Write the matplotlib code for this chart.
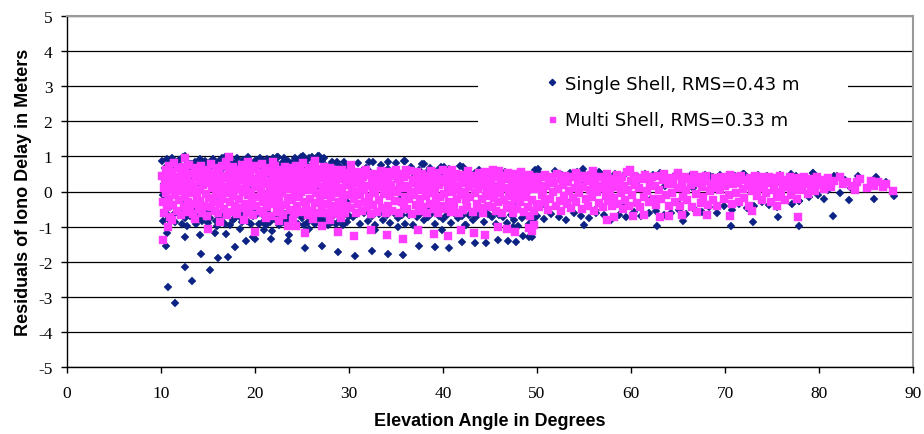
import matplotlib
matplotlib.use("Agg")
import matplotlib.pyplot as plt
from matplotlib.patches import Rectangle
from matplotlib.lines import Line2D

# ---- Multi Shell residuals ----
multi_x_a = [10.1, 10.2, 10.3, 10.3, 10.4, 10.5, 10.5, 10.6, 10.7, 10.8,
             10.9, 11.0, 11.0, 11.1, 11.2, 11.3, 11.3, 11.4, 11.5, 11.6,
             11.7, 11.7, 11.8, 11.9, 12.0, 12.1, 12.1, 12.2, 12.3, 12.4,
             12.5, 12.5, 12.6, 12.7, 12.8, 12.9, 12.9, 13.0, 13.1, 13.2,
             13.3, 13.3, 13.4, 13.5, 13.6, 13.7, 13.7, 13.8, 13.9, 14.0,
             14.1, 14.1, 14.2, 14.3, 14.4, 14.5, 14.5, 14.6, 14.7, 14.8,
             14.9, 14.9, 15.0, 15.1, 15.2, 15.3, 15.3, 15.4, 15.5, 15.6,
             15.7, 15.7, 15.8, 15.9, 16.0, 16.1, 16.1, 16.2, 16.3, 16.4,
             16.5, 16.5, 16.6, 16.7, 16.8, 16.9, 16.9, 17.0, 17.1, 17.2,
             17.3, 17.3, 17.4, 17.5, 17.6, 17.7, 17.7, 17.8, 17.9, 18.0,
             18.1, 18.1, 18.2, 18.3, 18.4, 18.5, 18.5, 18.6, 18.7, 18.8,
             18.9, 18.9, 19.0, 19.1, 19.2, 19.3, 19.3, 19.4, 19.5, 19.6,
             19.7, 19.7, 19.8, 19.9, 20.0, 20.1, 20.1, 20.2, 20.3, 20.4]
multi_y_a = [0.45, -0.30, 0.10, -0.62, 0.28, -0.05, 0.62, -0.45, 0.18, 0.74,
             -0.20, 0.38, -0.72, 0.05, 0.55, -0.38, 0.22, 0.80, -0.10, 0.42,
             -0.55, 0.12, 0.66, -0.25, 0.30, -0.68, 0.48, 0.02, 0.70, -0.40,
             0.20, -0.15, 0.58, -0.58, 0.35, 0.08, -0.30, 0.76, -0.48, 0.25,
             0.50, -0.05, -0.65, 0.15, 0.68, -0.35, 0.40, -0.12, 0.60, -0.50,
             0.30, 0.05, -0.28, 0.72, -0.60, 0.45, 0.18, -0.42, 0.55, -0.08,
             0.62, -0.70, 0.25, -0.18, 0.40, 0.78, -0.45, 0.10, -0.30, 0.52,
             -0.55, 0.20, 0.66, -0.10, 0.35, -0.62, 0.02, 0.58, -0.35, 0.28,
             0.72, -0.22, 0.12, -0.50, 0.45, 0.85, -0.05, -0.68, 0.38, 0.60,
             -0.30, 0.15, 0.50, -0.58, 0.30, -0.12, 0.70, 0.05, -0.42, 0.48,
             0.22, -0.65, 0.62, -0.20, 0.40, 0.08, -0.48, 0.75, -0.02, 0.32,
             -0.35, 0.55, 0.18, -0.60, 0.68, -0.10, 0.28, -0.45, 0.46, 0.00,
             0.64, -0.25, -0.68, 0.36, 0.12, 0.72, -0.40, 0.25, -0.15, 0.52]

multi_x_b = [20.5, 20.5, 20.6, 20.7, 20.8, 20.9, 20.9, 21.0, 21.1, 21.2,
             21.3, 21.3, 21.4, 21.5, 21.6, 21.7, 21.7, 21.8, 21.9, 22.0,
             22.1, 22.1, 22.2, 22.3, 22.4, 22.5, 22.5, 22.6, 22.7, 22.8,
             22.9, 22.9, 23.0, 23.1, 23.2, 23.3, 23.3, 23.4, 23.5, 23.6,
             23.7, 23.7, 23.8, 23.9, 24.0, 24.1, 24.1, 24.2, 24.3, 24.4,
             24.5, 24.5, 24.6, 24.7, 24.8, 24.9, 24.9, 25.0, 25.1, 25.2,
             25.3, 25.3, 25.4, 25.5, 25.6, 25.7, 25.7, 25.8, 25.9, 26.0,
             26.1, 26.1, 26.2, 26.3, 26.4, 26.5, 26.5, 26.6, 26.7, 26.8,
             26.9, 26.9, 27.0, 27.1, 27.2, 27.3, 27.3, 27.4, 27.5, 27.6,
             27.7, 27.7, 27.8, 27.9, 28.0, 28.1, 28.1, 28.2, 28.3, 28.4,
             28.5, 28.5, 28.6, 28.7, 28.8, 28.9, 28.9, 29.0, 29.1, 29.2,
             29.3, 29.3, 29.4, 29.5, 29.6, 29.7, 29.7, 29.8, 29.9, 30.0]
multi_y_b = [-0.55, 0.40, 0.05, 0.78, -0.30, 0.20, -0.62, 0.48, 0.60, -0.08,
             0.30, -0.45, 0.68, -0.20, 0.15, 0.55, -0.70, 0.02, 0.38, -0.35,
             0.72, -0.12, 0.25, -0.58, 0.50, 0.10, -0.28, 0.62, -0.48, 0.35,
             -0.05, 0.45, -0.66, 0.18, 0.70, -0.38, 0.28, 0.58, -0.18, 0.08,
             0.40, -0.52, 0.66, -0.25, 0.12, 0.52, -0.62, 0.30, -0.08, 0.74,
             -0.40, 0.20, 0.48, -0.15, 0.62, 0.00, -0.58, 0.35, 0.80, -0.30,
             0.15, 0.55, -0.45, 0.28, -0.68, 0.68, 0.05, -0.20, 0.42, 0.60,
             -0.55, 0.32, 0.10, 0.75, -0.32, 0.48, -0.05, 0.22, -0.62, 0.58,
             0.38, -0.25, 0.65, -0.48, 0.12, 0.70, -0.10, 0.45, 0.25, -0.60,
             0.05, 0.55, -0.35, 0.30, 0.68, -0.15, -0.58, 0.42, 0.18, -0.42,
             0.62, -0.05, 0.28, -0.65, 0.48, 0.10, -0.30, 0.55, -0.50, 0.35,
             0.00, 0.60, -0.22, 0.40, -0.60, 0.18, 0.52, -0.40, 0.25, -0.10]

multi_x_c = [30.1, 30.2, 30.3, 30.4, 30.5, 30.6, 30.7, 30.8, 30.9, 31.0,
             31.1, 31.2, 31.3, 31.4, 31.5, 31.6, 31.7, 31.8, 31.9, 32.0,
             32.1, 32.2, 32.3, 32.4, 32.5, 32.6, 32.7, 32.8, 32.9, 33.0,
             33.1, 33.2, 33.3, 33.4, 33.5, 33.6, 33.7, 33.8, 33.9, 34.0,
             34.1, 34.2, 34.3, 34.4, 34.5, 34.6, 34.7, 34.8, 34.9, 35.0,
             35.1, 35.2, 35.3, 35.4, 35.5, 35.6, 35.7, 35.8, 35.9, 36.0,
             36.1, 36.2, 36.3, 36.4, 36.5, 36.6, 36.7, 36.8, 36.9, 37.0,
             37.1, 37.2, 37.3, 37.4, 37.5, 37.6, 37.7, 37.8, 37.9, 38.0,
             38.1, 38.2, 38.3, 38.4, 38.5, 38.6, 38.7, 38.8, 38.9, 39.0,
             39.1, 39.2, 39.3, 39.4, 39.5, 39.6, 39.7, 39.8, 39.9, 40.0]
multi_y_c = [0.35, -0.48, 0.10, 0.52, -0.20, 0.25, -0.62, 0.42, 0.00, -0.35,
             0.55, -0.10, 0.20, -0.55, 0.40, 0.05, -0.30, 0.60, -0.45, 0.15,
             -0.15, 0.48, -0.65, 0.30, 0.08, -0.38, 0.50, -0.05, 0.25, -0.58,
             0.42, -0.25, 0.12, 0.58, -0.48, 0.20, -0.08, 0.38, -0.60, 0.02,
             0.30, -0.40, 0.55, -0.12, 0.18, -0.55, 0.45, 0.05, -0.28, 0.62,
             -0.02, 0.35, -0.62, 0.22, 0.50, -0.30, 0.10, -0.45, 0.40, -0.15,
             0.48, -0.50, 0.15, -0.20, 0.58, 0.00, -0.65, 0.32, -0.10, 0.25,
             -0.38, 0.55, 0.05, -0.55, 0.40, -0.22, 0.18, 0.50, -0.45, 0.08,
             0.30, -0.12, -0.60, 0.45, 0.12, -0.35, 0.58, -0.05, 0.22, -0.50,
             0.40, 0.02, -0.28, 0.52, -0.62, 0.18, -0.15, 0.35, -0.42, 0.60]

multi_x_d = [40.1, 40.2, 40.3, 40.4, 40.5, 40.6, 40.7, 40.8, 40.9, 41.0,
             41.1, 41.2, 41.3, 41.4, 41.5, 41.6, 41.7, 41.8, 41.9, 42.0,
             42.1, 42.2, 42.3, 42.4, 42.5, 42.6, 42.7, 42.8, 42.9, 43.0,
             43.1, 43.2, 43.3, 43.4, 43.5, 43.6, 43.7, 43.8, 43.9, 44.0,
             44.1, 44.2, 44.3, 44.4, 44.5, 44.6, 44.7, 44.8, 44.9, 45.0,
             45.1, 45.2, 45.3, 45.4, 45.5, 45.6, 45.7, 45.8, 45.9, 46.0,
             46.1, 46.2, 46.3, 46.4, 46.5, 46.6, 46.7, 46.8, 46.9, 47.0,
             47.1, 47.2, 47.3, 47.4, 47.5, 47.6, 47.7, 47.8, 47.9, 48.0,
             48.1, 48.2, 48.3, 48.4, 48.5, 48.6, 48.7, 48.8, 48.9, 49.0,
             49.1, 49.2, 49.3, 49.4, 49.5, 49.6, 49.7, 49.8, 49.9, 50.0]
multi_y_d = [-0.08, 0.28, -0.50, 0.45, 0.10, -0.30, 0.55, -0.58, 0.20, -0.02,
             0.38, -0.40, 0.15, 0.50, -0.20, 0.05, -0.60, 0.42, -0.10, 0.25,
             -0.52, 0.48, 0.00, -0.25, 0.32, -0.45, 0.58, 0.12, -0.15, 0.40,
             0.20, -0.58, 0.45, -0.05, 0.28, -0.35, 0.08, 0.52, -0.48, 0.15,
             -0.22, 0.38, -0.62, 0.25, 0.55, -0.12, 0.10, -0.40, 0.45, 0.00,
             0.30, -0.45, 0.50, -0.18, 0.15, -0.55, 0.40, 0.05, -0.30, 0.58,
             -0.05, 0.22, -0.60, 0.45, -0.25, 0.35, 0.10, -0.48, 0.52, -0.12,
             0.40, -0.38, 0.18, -0.62, 0.50, 0.02, -0.20, 0.30, -0.50, 0.45,
             0.12, -0.30, 0.55, -0.08, 0.25, -0.58, 0.38, -0.15, 0.05, -0.45,
             0.48, 0.15, -0.70, 0.30, -0.25, 0.42, -0.55, 0.08, 0.35, -0.35]

multi_x_e = [50.1, 50.2, 50.4, 50.5, 50.6, 50.8, 50.9, 51.0, 51.2, 51.3,
             51.4, 51.6, 51.7, 51.8, 52.0, 52.1, 52.2, 52.4, 52.5, 52.6,
             52.8, 52.9, 53.0, 53.2, 53.3, 53.4, 53.6, 53.7, 53.8, 54.0,
             54.1, 54.2, 54.4, 54.5, 54.6, 54.8, 54.9, 55.0, 55.2, 55.3,
             55.4, 55.6, 55.7, 55.8, 56.0, 56.1, 56.2, 56.4, 56.5, 56.6,
             56.8, 56.9, 57.0, 57.2, 57.3, 57.4, 57.6, 57.7, 57.8, 58.0,
             58.1, 58.2, 58.4, 58.5, 58.6, 58.8, 58.9, 59.0, 59.2, 59.3,
             59.4, 59.6, 59.7, 59.8, 60.0, 60.1, 60.3, 60.4, 60.6, 60.7]
multi_y_e = [0.20, -0.45, 0.40, -0.10, 0.05, -0.30, 0.48, 0.15, -0.52, 0.30,
             -0.20, 0.42, -0.02, 0.25, -0.40, 0.50, 0.08, -0.28, 0.35, -0.55,
             0.18, -0.12, 0.45, -0.35, 0.28, 0.02, -0.48, 0.40, -0.18, 0.10,
             0.52, -0.30, 0.22, -0.05, 0.38, -0.50, 0.12, 0.45, -0.22, 0.30,
             -0.40, 0.05, 0.48, -0.15, 0.25, -0.55, 0.35, -0.02, 0.15, -0.32,
             0.42, 0.10, -0.45, 0.30, -0.12, 0.50, -0.28, 0.20, 0.02, -0.40,
             0.35, -0.18, 0.12, 0.48, -0.35, 0.25, -0.05, 0.40, -0.50, 0.15,
             -0.25, 0.55, 0.05, -0.40, 0.30, -0.10, 0.45, 0.18, -0.32, 0.38]

multi_x_f = [60.9, 61.0, 61.2, 61.4, 61.5, 61.7, 61.9, 62.0, 62.2, 62.4,
             62.5, 62.7, 62.9, 63.0, 63.2, 63.4, 63.5, 63.7, 63.9, 64.0,
             64.2, 64.4, 64.5, 64.7, 64.9, 65.0, 65.2, 65.4, 65.5, 65.7,
             65.9, 66.0, 66.2, 66.4, 66.5, 66.7, 66.9, 67.0, 67.2, 67.4,
             67.5, 67.7, 67.9, 68.0, 68.2, 68.4, 68.5, 68.7, 68.9, 69.0,
             69.2, 69.4, 69.5, 69.7, 69.9, 70.0, 70.2, 70.4, 70.5, 70.7,
             70.9, 71.0, 71.2, 71.4, 71.5, 71.7, 71.9, 72.0, 72.2, 72.4,
             72.5, 72.7, 72.9, 73.0, 73.2, 73.4, 73.5, 73.7, 73.9, 74.0,
             74.2, 74.4, 74.5, 74.7, 74.9, 75.0, 75.2, 75.4, 75.5, 75.7,
             75.9, 76.0, 76.2, 76.4, 76.5, 76.7, 76.9, 77.0, 77.2, 77.4,
             77.5, 77.7, 77.9, 78.0, 78.2, 78.4, 78.6, 78.8, 79.0, 79.2,
             79.4, 79.6, 79.8, 80.0, 80.3, 80.5, 80.8, 81.0, 81.3, 81.6,
             82.2, 82.6, 83.0, 83.5, 84.0, 84.4, 85.1, 85.8, 86.3, 87.1,
             87.9, 83.8, 85.5, 86.8]
multi_y_f = [0.10, -0.45, 0.35, -0.15, 0.48, 0.02, -0.30, 0.25, 0.42, -0.20,
             0.15, -0.38, 0.45, 0.05, -0.22, 0.32, 0.50, -0.10, 0.20, -0.42,
             0.38, -0.05, 0.22, -0.30, 0.45, 0.10, -0.40, 0.28, -0.15, 0.40,
             0.05, -0.25, 0.35, 0.18, -0.45, 0.48, -0.08, 0.25, 0.40, -0.32,
             0.12, -0.15, 0.30, 0.45, -0.38, 0.02, 0.22, -0.25, 0.38, 0.10,
             -0.42, 0.28, 0.05, 0.42, -0.20, 0.15, 0.35, -0.10, 0.48, -0.35,
             0.20, 0.40, -0.05, 0.25, -0.30, 0.45, 0.08, -0.18, 0.32, 0.15,
             -0.40, 0.38, 0.02, 0.22, 0.45, -0.12, 0.30, 0.10, -0.25, 0.40,
             0.18, -0.05, 0.35, 0.42, -0.30, 0.25, 0.05, 0.38, -0.15, 0.28,
             0.45, -0.02, 0.20, -0.25, 0.32, 0.12, 0.40, -0.10, 0.25, 0.05,
             0.38, -0.20, 0.15, 0.30, 0.05, 0.42, 0.20, -0.08, 0.35, 0.12,
             0.28, 0.02, 0.40, 0.18, 0.32, 0.08, 0.25, 0.38, 0.12, 0.30,
             0.40, 0.20, 0.28, 0.15, 0.26, 0.35, 0.11, 0.17, 0.28, 0.21,
             0.01, 0.05, 0.30, 0.12]

multi_edge_x = [12.5, 17.2, 21.9, 26.4, 19.3, 30.2, 36.1, 45.3, 41.0, 56.0, 59.9, 65.0,
                11.2, 13.6, 16.3, 18.8, 21.2, 22.6, 24.0, 26.2, 28.0, 29.2]
multi_edge_y = [0.95, 0.97, 0.83, 0.88, 0.85, 0.75, 0.62, 0.62, 0.60, 0.58, 0.62, 0.52,
                -0.82, -0.78, -0.88, -0.80, -0.75, -0.85, -0.80, -0.78, -0.82, -0.76]

multi_out_x = [10.2, 10.7, 15.0, 20.0, 23.5, 24.4, 25.3, 27.1, 28.8, 30.5,
               32.3, 34.0, 35.7, 37.3, 39.0, 40.5, 41.9, 43.3, 44.5, 45.8,
               46.8, 47.7, 49.1, 49.5, 49.7, 57.4, 58.2, 60.2, 61.4, 63.1,
               64.0, 65.4, 67.0, 68.1, 70.5, 72.9, 75.5, 77.8]
multi_out_y = [-1.38, -1.02, -1.07, -1.16, -0.99, -0.99, -1.19, -0.99, -1.16, -1.28,
               -1.09, -1.24, -1.35, -1.10, -1.22, -1.28, -1.10, -1.19, -1.24, -1.02,
               -1.08, -1.14, -1.05, -1.13, -0.95, -0.81, -0.74, -0.71, -0.67, -0.74,
               -0.69, -0.67, -0.59, -0.67, -0.71, -0.56, -0.42, -0.74]

# ---- Single Shell residuals ----
single_x_a = [10.1, 10.2, 10.3, 10.4, 10.5, 10.6, 10.7, 10.8, 10.9, 11.0,
              11.1, 11.2, 11.3, 11.4, 11.5, 11.6, 11.7, 11.8, 11.9, 12.0,
              12.1, 12.2, 12.3, 12.4, 12.5, 12.6, 12.7, 12.8, 12.9, 13.0,
              13.1, 13.2, 13.3, 13.4, 13.5, 13.6, 13.7, 13.8, 13.9, 14.0,
              14.1, 14.2, 14.3, 14.4, 14.5, 14.6, 14.7, 14.8, 14.9, 15.0,
              15.1, 15.2, 15.3, 15.4, 15.5, 15.6, 15.7, 15.8, 15.9, 16.0,
              16.1, 16.2, 16.3, 16.4, 16.5, 16.6, 16.7, 16.8, 16.9, 17.0,
              17.1, 17.2, 17.3, 17.4, 17.5, 17.6, 17.7, 17.8, 17.9, 18.0,
              18.1, 18.2, 18.3, 18.4, 18.5, 18.6, 18.7, 18.8, 18.9, 19.0,
              19.1, 19.2, 19.3, 19.4, 19.5, 19.6, 19.7, 19.8, 19.9, 20.0]
single_y_a = [0.88, -0.85, 0.20, 0.68, -0.60, 0.92, -0.78, 0.55, -0.72, 0.82,
              -0.40, 0.95, -0.68, 0.65, -0.88, 0.75, 0.05, -0.62, 0.90, -0.55,
              0.72, -0.92, 0.98, -0.30, 0.64, -0.75, 0.60, -0.98, 0.82, 0.35,
              -0.70, 0.78, -0.58, 0.62, -0.50, 0.85, -0.92, 0.58, -0.78, 0.70,
              0.92, -0.68, 0.66, -0.84, 0.45, -0.64, 0.86, -0.60, 0.70, -0.90,
              0.80, -0.75, 0.62, -0.56, 0.94, -0.55, 0.76, -0.85, 0.64, -0.98,
              0.85, -0.70, 0.58, -0.80, 0.96, -0.62, 0.72, -0.92, 0.66, 0.90,
              -0.66, 0.70, -0.95, 0.88, -0.58, 0.60, -0.82, 0.74, -0.75, 0.82,
              0.95, -0.64, 0.68, -0.72, 0.60, -0.86, 0.90, -0.58, 0.76, -0.68,
              0.66, -0.85, 0.98, -0.62, 0.72, -0.92, 0.58, -0.70, 0.80, -0.60]

single_x_b = [20.1, 20.2, 20.3, 20.4, 20.5, 20.6, 20.7, 20.8, 20.9, 21.0,
              21.1, 21.2, 21.3, 21.4, 21.5, 21.6, 21.7, 21.8, 21.9, 22.0,
              22.1, 22.2, 22.3, 22.4, 22.5, 22.6, 22.7, 22.8, 22.9, 23.0,
              23.1, 23.2, 23.3, 23.4, 23.5, 23.6, 23.7, 23.8, 23.9, 24.0,
              24.1, 24.2, 24.3, 24.4, 24.5, 24.6, 24.7, 24.8, 24.9, 25.0,
              25.1, 25.2, 25.3, 25.4, 25.5, 25.6, 25.7, 25.8, 25.9, 26.0,
              26.1, 26.2, 26.3, 26.4, 26.5, 26.6, 26.7, 26.8, 26.9, 27.0,
              27.1, 27.2, 27.3, 27.4, 27.5, 27.6, 27.7, 27.8, 27.9, 28.0,
              28.1, 28.2, 28.3, 28.4, 28.5, 28.6, 28.7, 28.8, 28.9, 29.0,
              29.1, 29.2, 29.3, 29.4, 29.5, 29.6, 29.7, 29.8, 29.9, 30.0]
single_y_b = [0.90, -0.65, 0.72, -0.92, 0.96, -0.58, 0.64, -0.88, 0.86, -0.70,
              0.68, -0.95, 0.92, -0.62, 0.78, -0.86, 0.60, -0.74, 0.95, -0.66,
              0.85, -0.82, 0.98, -0.60, 0.66, -0.95, 0.74, -0.68, 0.82, -0.88,
              0.95, -0.64, 0.70, -0.80, 0.88, -0.72, 0.62, -0.96, 0.80, -0.60,
              0.72, -0.86, 0.96, -0.66, 0.64, -0.92, 0.88, -0.62, 0.98, -0.76,
              0.70, -0.95, 0.86, -0.66, 0.76, -0.88, 0.96, -0.60, 0.68, -0.74,
              0.98, -0.70, 0.78, -0.92, 0.90, -0.64, 1.00, -0.78, 0.95, -0.68,
              0.88, -0.82, 0.96, -0.62, 0.72, -0.85, 0.66, -0.95, 0.70, -0.72,
              0.64, -0.88, 0.80, -0.66, 0.60, -0.92, 0.85, -0.62, 0.74, -0.80,
              0.68, -0.76, 0.58, -0.95, 0.84, -0.64, 0.70, -0.88, 0.62, -0.70]

single_x_c = [30.2, 30.4, 30.6, 30.8, 31.0, 31.2, 31.4, 31.6, 31.8, 32.0,
              32.2, 32.4, 32.6, 32.8, 33.0, 33.2, 33.4, 33.6, 33.8, 34.0,
              34.2, 34.4, 34.6, 34.8, 35.0, 35.2, 35.4, 35.6, 35.8, 36.0,
              36.2, 36.4, 36.6, 36.8, 37.0, 37.2, 37.4, 37.6, 37.8, 38.0,
              38.2, 38.4, 38.6, 38.8, 39.0, 39.2, 39.4, 39.6, 39.8, 40.0,
              40.2, 40.4, 40.6, 40.8, 41.0, 41.2, 41.4, 41.6, 41.8, 42.0,
              42.2, 42.4, 42.6, 42.8, 43.0, 43.2, 43.4, 43.6, 43.8, 44.0,
              44.2, 44.4, 44.6, 44.8, 45.0, 45.2, 45.4, 45.6, 45.8, 46.0,
              46.2, 46.4, 46.6, 46.8, 47.0, 47.2, 47.4, 47.6, 47.8, 48.0,
              48.2, 48.4, 48.6, 48.8, 49.0, 49.2, 49.4, 49.6, 49.8, 50.0]
single_y_c = [0.70, -0.72, 0.52, -0.65, 0.80, -0.92, 0.58, -0.62, 0.66, -0.85,
              0.56, -0.70, 0.84, -0.95, 0.50, -0.64, 0.76, -0.80, 0.48, -0.68,
              0.64, -0.90, 0.56, -0.62, 0.82, -0.76, 0.50, -0.68, 0.86, -0.92,
              0.54, -0.66, 0.70, -0.95, 0.48, -0.72, 0.60, -0.64, 0.78, -0.80,
              0.52, -0.74, 0.66, -0.62, 0.46, -0.92, 0.58, -0.70, 0.70, -0.78,
              0.50, -0.68, 0.64, -0.90, 0.56, -0.62, 0.48, -0.76, 0.72, -0.70,
              0.50, -0.95, 0.58, -0.66, 0.44, -0.80, 0.54, -0.70, 0.62, -0.62,
              0.50, -0.88, 0.44, -0.64, 0.58, -0.74, 0.46, -0.94, 0.52, -0.68,
              0.44, -0.72, 0.56, -0.90, 0.40, -0.66, 0.50, -0.80, 0.46, -0.98,
              0.52, -0.76, 0.42, -0.68, 0.48, -0.92, 0.40, -0.80, 0.62, -0.70]

single_x_d = [50.3, 50.7, 51.1, 51.5, 51.9, 52.3, 52.7, 53.1, 53.5, 53.9,
              54.3, 54.7, 55.1, 55.5, 55.9, 56.3, 56.7, 57.1, 57.5, 57.9,
              58.3, 58.7, 59.1, 59.5, 59.9, 60.3, 60.7, 61.1, 61.5, 61.9,
              62.3, 62.7, 63.1, 63.5, 63.9, 64.3, 64.7, 65.1, 65.5, 65.9,
              66.3, 66.7, 67.1, 67.5, 67.9, 68.3, 68.7, 69.1, 69.5, 69.9,
              70.3, 70.7, 71.1, 71.5, 71.9, 72.3, 72.7, 73.1, 73.5, 73.9,
              74.3, 74.7, 75.1, 75.5, 75.9, 76.3, 76.7, 77.1, 77.5, 77.9,
              78.4, 78.9, 79.4, 79.9, 80.5, 81.0, 81.6, 82.2, 82.8, 83.4]
single_y_d = [0.50, -0.78, 0.42, -0.65, 0.58, -0.72, 0.46, -0.82, 0.52, -0.60,
              0.55, -0.70, 0.48, -0.76, 0.40, -0.62, 0.52, -0.68, 0.45, -0.80,
              0.50, -0.66, 0.44, -0.74, 0.56, -0.58, 0.42, -0.70, 0.50, -0.62,
              0.46, -0.55, 0.52, -0.68, 0.38, -0.60, 0.48, -0.52, 0.42, -0.64,
              0.44, -0.50, 0.36, -0.58, 0.46, -0.45, 0.40, -0.62, 0.48, -0.40,
              0.38, -0.52, 0.45, -0.35, 0.50, -0.48, 0.36, -0.42, 0.46, -0.30,
              0.42, -0.38, 0.30, -0.45, 0.48, -0.25, 0.38, -0.35, 0.44, -0.28,
              0.35, -0.15, 0.53, -0.10, 0.30, 0.05, 0.43, -0.05, 0.32, 0.10]

single_mid_x = [10.2, 11.5, 12.8, 14.0, 15.6, 17.0, 18.4, 19.8, 21.3, 22.6,
                24.0, 25.5, 26.9, 28.3, 29.8, 31.2, 32.7, 34.2, 35.6, 37.1,
                38.6, 40.0, 41.5, 43.0, 44.4, 45.9, 47.3, 48.8, 50.3, 51.8,
                53.2, 54.7, 56.2, 57.6, 59.1, 60.6, 62.1, 63.6, 65.1, 66.6]
single_mid_y = [-0.10, 0.30, -0.45, 0.15, -0.25, 0.48, -0.55, 0.10, 0.40, -0.35,
                0.22, -0.50, 0.05, 0.45, -0.30, 0.35, -0.60, 0.20, -0.12, 0.42,
                -0.48, 0.28, -0.20, 0.38, -0.55, 0.12, -0.35, 0.25, -0.45, 0.30,
                -0.30, 0.20, -0.52, 0.05, -0.40, 0.28, -0.20, 0.15, -0.35, 0.10]

single_edge_x = [80.5, 83.2, 85.9, 88.0, 87.1, 86.1, 84.1, 81.9, 79.4, 77.0, 74.5, 72.0,
                 68.4, 59.9, 77.9, 81.5,
                 12.5, 25.1, 26.8, 22.4, 16.8, 28.2, 32.1, 34.1, 36.0, 38.0, 40.1, 42.1,
                 44.1, 50.1, 54.9, 56.6]
single_edge_y = [-0.21, -0.24, -0.21, -0.14, 0.26, 0.40, 0.43, 0.43, 0.53, 0.51, 0.43, 0.51,
                 0.43, 0.62, -0.28, -0.70,
                 1.02, 1.02, 1.02, 0.97, 0.97, 0.83, 0.83, 0.83, 0.86, 0.79, 0.69, 0.70,
                 0.56, 0.64, 0.64, 0.55]

single_out_x = [10.6, 10.5, 10.7, 11.5, 12.5, 12.5, 13.3, 14.3, 15.2, 16.1,
                17.1, 17.9, 19.0, 20.0, 21.7, 23.5, 25.3, 27.1, 28.8, 30.6,
                14.2, 15.7, 16.9, 18.4, 19.8, 21.0, 21.8, 23.6, 25.7, 32.4,
                34.1, 35.7, 37.4, 39.1, 40.6, 42.0, 43.4, 44.6, 45.8, 46.9,
                47.8, 48.5, 49.2, 49.5, 32.8, 35.2, 39.9, 42.3, 47.4, 55.0,
                62.8, 65.5, 70.6, 73.0, 75.6, 77.9]
single_out_y = [-1.19, -1.54, -2.71, -3.19, -2.16, -1.31, -2.54, -1.78, -2.23, -1.90,
                -1.88, -1.57, -1.41, -1.35, -1.36, -1.40, -1.61, -1.54, -1.71, -1.85,
                -1.24, -1.17, -1.20, -1.07, -1.30, -1.09, -1.13, -1.23, -1.07, -1.69,
                -1.78, -1.81, -1.54, -1.57, -1.61, -1.44, -1.48, -1.48, -1.37, -1.41,
                -1.43, -1.27, -1.30, -1.30, -1.09, -1.02, -1.09, -0.95, -1.02, -0.95,
                -0.97, -0.83, -0.97, -0.86, -0.72, -0.97]

labels = ['Single Shell, RMS=0.43 m', 'Multi Shell, RMS=0.33 m']
x_ticks = [0, 10, 20, 30, 40, 50, 60, 70, 80, 90]
y_ticks = [-5, -4, -3, -2, -1, 0, 1, 2, 3, 4, 5]

blue = '#0d2383'
pink = '#ff3cff'

single_x = single_x_a + single_x_b + single_x_c + single_x_d + single_mid_x + single_edge_x + single_out_x
single_y = single_y_a + single_y_b + single_y_c + single_y_d + single_mid_y + single_edge_y + single_out_y
multi_x = multi_x_a + multi_x_b + multi_x_c + multi_x_d + multi_x_e + multi_x_f + multi_edge_x + multi_out_x
multi_y = multi_y_a + multi_y_b + multi_y_c + multi_y_d + multi_y_e + multi_y_f + multi_edge_y + multi_out_y

fig = plt.figure(figsize=(9.24, 4.35), dpi=100)
ax = fig.add_axes([67 / 924, 1 - 368 / 435, 846 / 924, 351 / 435])

ax.plot(single_x, single_y, linestyle='none', marker='D', ms=4.0, color=blue, mec=blue, mew=0.3)
ax.plot(multi_x, multi_y, linestyle='none', marker='s', ms=5.4, color=pink, mec=pink, mew=0.3)

ax.set_xlim(0, 90)
ax.set_ylim(-5, 5)
ax.set_xticks(x_ticks)
ax.set_yticks(y_ticks)
ax.set_xticklabels([str(t) for t in x_ticks], family='Liberation Serif', fontsize=12.5)
ax.set_yticklabels([str(t) for t in y_ticks], family='Liberation Serif', fontsize=12.5)
ax.tick_params(axis='x', direction='out', length=4, width=1, pad=9)
ax.tick_params(axis='y', direction='out', length=4.5, width=1, pad=6)
ax.yaxis.grid(True, color='black', linewidth=0.9)
ax.set_axisbelow(True)

for side in ['top', 'right']:
    ax.spines[side].set_color('#9a9a9a')
    ax.spines[side].set_linewidth(1.5)
for side in ['left', 'bottom']:
    ax.spines[side].set_color('black')
    ax.spines[side].set_linewidth(1)

ax.set_xlabel('Elevation Angle in Degrees', family='Liberation Sans', fontweight='bold', fontsize=13, labelpad=8)
ax.set_ylabel('Residuals of Iono Delay in Meters', family='Liberation Sans', fontweight='bold', fontsize=13, labelpad=4)

# white legend area hiding the grid lines
ax.add_patch(Rectangle((0.486, 0.644), 0.437, 0.228, transform=ax.transAxes,
                       facecolor='white', edgecolor='none', zorder=1.5))
handles = [Line2D([], [], linestyle='none', marker='D', ms=3.2, color=blue),
           Line2D([], [], linestyle='none', marker='s', ms=3.6, color=pink)]
leg = ax.legend(handles, labels, loc='center left', bbox_to_anchor=(0.556, 0.755),
                frameon=False, handlelength=0.6, handletextpad=0.45, labelspacing=1.05,
                borderpad=0, prop={'family': 'DejaVu Sans', 'size': 13})

fig.savefig('out.png', dpi=100)
